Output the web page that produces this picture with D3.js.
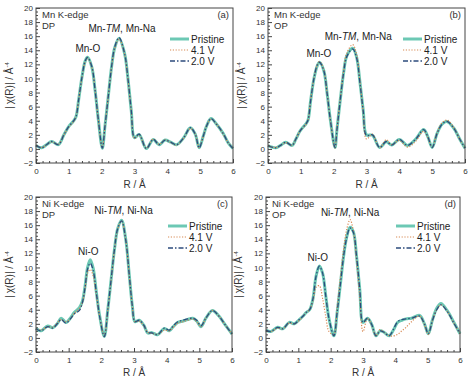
<!DOCTYPE html>
<html>
<head>
<meta charset="utf-8">
<script src="https://cdn.jsdelivr.net/npm/d3@7"></script>
<style>
  body { margin: 0; background: #fff; }
  svg { font-family: "Liberation Sans", Arial, sans-serif; }
</style>
</head>
<body>
<svg id="chart" width="474" height="378"></svg>
<script>
// x ticks / y ticks shared by all panels
const xTicks = [0, 1, 2, 3, 4, 5, 6];
const yTicks = [-2, 0, 2, 4, 6, 8, 10, 12, 14, 16, 18, 20];
const seriesNames = ['Pristine', '4.1 V', '2.0 V'];

// (a) Mn K-edge DP
const rA = [0, 0.17, 0.32, 0.48, 0.68, 0.85, 1.0, 1.15, 1.22, 1.3, 1.4, 1.5, 1.57, 1.7, 1.8, 1.9, 2.02, 2.1, 2.2, 2.3, 2.4, 2.53, 2.7, 2.8, 2.9, 3.0, 3.14, 3.36, 3.57, 3.75, 3.93, 4.1, 4.28, 4.5, 4.7, 4.85, 4.97, 5.1, 5.2, 5.33, 5.5, 5.7, 5.85, 6.0];
const aPristine = [0.5, 0.15, 0.6, 1.05, 0.6, 2.0, 3.2, 4.0, 4.6, 7.0, 10.2, 12.5, 13.0, 11.6, 8.3, 4.1, 0.1, 3.2, 7.4, 11.6, 14.4, 15.7, 13.5, 10.0, 5.5, 1.6, 2.05, 0.05, 1.35, 0.6, 1.25, 0.95, 0.6, 1.6, 3.0, 2.1, 0.15, 1.9, 3.3, 4.3, 3.5, 2.2, 0.9, 0.05];
const a41 = [0.55, 0.2, 0.6, 1.0, 0.65, 2.0, 3.1, 3.9, 4.6, 7.0, 10.1, 12.4, 12.9, 11.6, 8.3, 4.1, 0.15, 3.2, 7.4, 11.5, 14.3, 15.6, 13.4, 9.9, 5.4, 1.5, 2.0, 0.1, 1.4, 0.65, 1.3, 0.9, 0.55, 1.55, 2.9, 2.1, 0.2, 1.9, 3.3, 4.25, 3.5, 2.1, 0.9, 0.1];
const a20 = [0.5, 0.15, 0.6, 1.05, 0.6, 2.0, 3.2, 4.0, 4.6, 7.0, 10.2, 12.5, 13.0, 11.7, 8.3, 4.1, 0.1, 3.2, 7.4, 11.6, 14.5, 15.8, 13.5, 10.0, 5.5, 1.6, 2.1, 0.05, 1.35, 0.6, 1.25, 0.95, 0.6, 1.6, 3.0, 2.1, 0.15, 1.9, 3.3, 4.3, 3.5, 2.2, 0.9, 0.05];

// (b) Mn K-edge OP
const rB = [0, 0.24, 0.38, 0.54, 0.73, 0.85, 0.97, 1.16, 1.22, 1.3, 1.4, 1.5, 1.57, 1.7, 1.8, 1.9, 2.04, 2.1, 2.2, 2.3, 2.4, 2.58, 2.7, 2.8, 2.9, 3.0, 3.18, 3.4, 3.6, 3.77, 4.0, 4.25, 4.5, 4.74, 4.87, 5.0, 5.15, 5.3, 5.45, 5.65, 5.85, 6.0];
const bPristine = [0.45, 0.15, 0.5, 0.95, 0.5, 1.4, 2.5, 3.6, 4.1, 6.9, 10.0, 11.8, 12.3, 11.1, 7.9, 4.1, 0.2, 2.75, 6.9, 10.7, 13.2, 14.3, 13.0, 9.5, 5.5, 2.0, 1.95, 0.2, 1.0, 0.55, 1.35, 0.5, 1.4, 2.75, 1.7, 0.2, 2.2, 3.5, 3.9, 3.0, 1.3, 0.1];
const b41 = [0.5, 0.2, 0.5, 0.9, 0.55, 1.4, 2.5, 3.5, 4.1, 7.0, 10.1, 11.9, 12.4, 11.2, 8.0, 4.0, 0.15, 2.8, 7.1, 11.0, 13.6, 14.8, 13.4, 9.6, 5.2, 1.4, 2.1, 0.15, 1.3, 0.6, 1.2, 0.25, 1.1, 2.5, 1.6, 0.25, 2.3, 3.7, 4.1, 3.1, 1.3, 0.1];
const b20 = [0.45, 0.15, 0.5, 0.95, 0.5, 1.4, 2.5, 3.6, 4.1, 6.9, 10.0, 11.9, 12.3, 11.1, 7.9, 4.1, 0.2, 2.7, 6.9, 10.7, 13.1, 14.2, 12.9, 9.4, 5.4, 1.9, 2.0, 0.2, 1.05, 0.55, 1.35, 0.5, 1.4, 2.75, 1.7, 0.2, 2.2, 3.5, 3.9, 3.0, 1.3, 0.1];

// (c) Ni K-edge DP
const rC = [0, 0.15, 0.36, 0.51, 0.65, 0.77, 0.92, 1.05, 1.17, 1.33, 1.42, 1.5, 1.58, 1.66, 1.75, 1.85, 1.95, 2.09, 2.2, 2.3, 2.4, 2.5, 2.62, 2.75, 2.85, 2.95, 3.03, 3.16, 3.3, 3.42, 3.55, 3.72, 3.93, 4.08, 4.2, 4.34, 4.5, 4.64, 4.8, 4.92, 5.05, 5.2, 5.4, 5.6, 5.8, 6.0];
const cPristine = [1.35, 1.0, 1.7, 1.45, 2.0, 2.8, 2.2, 2.8, 3.6, 4.3, 5.2, 7.3, 10.0, 11.1, 9.9, 6.4, 3.1, 0.2, 4.1, 8.3, 12.5, 15.5, 16.7, 13.9, 9.2, 4.5, 2.3, 2.5, 1.8, 0.7, 0.75, 0.45, 1.35, 1.0, 1.6, 2.2, 2.4, 2.6, 2.8, 2.4, 1.6, 2.8, 3.9, 3.1, 1.8, 0.55];
const c41 = [1.2, 1.1, 1.6, 1.5, 2.1, 2.6, 2.3, 2.7, 3.5, 4.2, 5.0, 6.9, 9.2, 9.7, 8.8, 6.0, 3.0, 0.3, 4.0, 8.2, 12.4, 15.4, 16.6, 13.8, 9.1, 4.4, 2.3, 2.4, 1.7, 0.8, 0.65, 0.5, 1.1, 1.0, 1.5, 2.1, 2.3, 2.5, 2.7, 2.3, 1.6, 2.8, 3.9, 3.1, 1.8, 0.55];
const c20 = [1.3, 1.0, 1.6, 1.4, 2.0, 2.6, 2.1, 2.7, 3.4, 3.9, 5.0, 7.1, 9.8, 10.6, 9.6, 6.3, 3.0, 0.2, 4.1, 8.3, 12.5, 15.5, 16.6, 13.8, 9.2, 4.5, 2.3, 2.5, 1.8, 0.75, 0.7, 0.45, 1.4, 1.1, 1.7, 2.3, 2.5, 2.7, 2.8, 2.5, 1.7, 2.8, 3.9, 3.1, 1.8, 0.55];

// (d) Ni K-edge OP
const rD = [0, 0.15, 0.36, 0.52, 0.72, 0.88, 1.03, 1.15, 1.24, 1.35, 1.45, 1.55, 1.65, 1.75, 1.85, 1.95, 2.1, 2.2, 2.3, 2.4, 2.5, 2.6, 2.7, 2.8, 2.9, 3.0, 3.14, 3.27, 3.4, 3.53, 3.65, 3.81, 3.95, 4.07, 4.2, 4.33, 4.5, 4.75, 4.9, 5.02, 5.15, 5.28, 5.41, 5.6, 5.8, 6.0];
const dPristine = [1.1, 0.9, 1.5, 1.3, 2.2, 2.0, 2.6, 3.1, 3.6, 4.0, 5.5, 8.8, 10.2, 9.2, 5.9, 2.7, 0.3, 3.6, 7.6, 11.6, 14.4, 15.7, 15.1, 11.6, 6.9, 2.2, 2.8, 1.9, 0.3, 1.0, 0.8, 0.3, 1.2, 2.2, 2.5, 2.7, 2.8, 3.2, 2.0, 0.6, 2.6, 4.2, 4.9, 3.9, 2.3, 0.6];
const d41 = [1.1, 0.9, 1.4, 1.3, 2.1, 2.0, 2.5, 3.1, 3.6, 4.0, 5.2, 7.2, 7.4, 5.6, 3.0, 0.9, 0.5, 4.3, 8.5, 12.6, 15.5, 16.8, 15.2, 11.0, 5.8, 0.9, 2.8, 1.8, 0.3, 1.2, 0.8, 0.3, 0.3, 0.5, 1.0, 1.5, 2.3, 3.1, 1.9, 0.5, 2.5, 4.0, 4.7, 3.8, 2.2, 0.6];
const d20 = [1.1, 0.9, 1.5, 1.3, 2.2, 2.0, 2.6, 3.1, 3.6, 4.0, 5.5, 8.8, 10.2, 9.2, 5.9, 2.7, 0.3, 3.6, 7.6, 11.6, 14.3, 15.6, 15.0, 11.6, 6.9, 2.2, 2.8, 1.9, 0.3, 1.0, 0.8, 0.3, 1.3, 2.3, 2.6, 2.7, 2.8, 3.1, 2.0, 0.6, 2.5, 4.0, 4.7, 3.8, 2.2, 0.6];

const panels = [
  { r: rA, series: [aPristine, a41, a20], tag: '(a)', edge: ['Mn K-edge', 'DP'],
    peakLo: ['Mn-O', 1.58, 13.8], peakHi: ['Mn', 'Mn-Na', 2.62, 16.6],
    x0: 36, x1: 233, y0: 8, y1: 163, legX: 170, legY: 39, ylabX: 13, xlabY: 188 },
  { r: rB, series: [bPristine, b41, b20], tag: '(b)', edge: ['Mn K-edge', 'OP'],
    peakLo: ['Mn-O', 1.55, 13.0], peakHi: ['Mn', 'Mn-Na', 2.75, 15.4],
    x0: 268, x1: 465, y0: 8, y1: 163, legX: 403, legY: 39, ylabX: 245, xlabY: 188 },
  { r: rC, series: [cPristine, c41, c20], tag: '(c)', edge: ['Ni K-edge', 'DP'],
    peakLo: ['Ni-O', 1.6, 11.8], peakHi: ['Ni', 'Ni-Na', 2.68, 17.6],
    x0: 36, x1: 232, y0: 197, y1: 352, legX: 168, legY: 226, ylabX: 13, xlabY: 376 },
  { r: rD, series: [dPristine, d41, d20], tag: '(d)', edge: ['Ni K-edge', 'OP'],
    peakLo: ['Ni-O', 1.6, 10.9], peakHi: ['Ni', 'Ni-Na', 2.6, 17.3],
    x0: 266, x1: 460, y0: 197, y1: 352, legX: 396, legY: 226, ylabX: 242, xlabY: 376 }
];

const colors = ['#6cc8b4', '#d88a55', '#2c4b7c'];
const widths = [3, 1.2, 1.3];
const dashes = [null, '1.2,1.6', '5,2,1.5,2'];

const svg = d3.select('#chart');
svg.append('rect').attr('width', 474).attr('height', 378).attr('fill', '#fff');

panels.forEach(p => {
  const x = d3.scaleLinear().domain([0, 6]).range([p.x0, p.x1]);
  const y = d3.scaleLinear().domain([-2, 20]).range([p.y1, p.y0]);
  const g = svg.append('g');

  // curves
  const line = d3.line()
    .x(d => x(d[0])).y(d => y(d[1]))
    .curve(d3.curveCatmullRom.alpha(0.5));
  p.series.forEach((vals, i) => {
    g.append('path')
      .attr('d', line(p.r.map((r, k) => [r, vals[k]])))
      .attr('fill', 'none')
      .attr('stroke', colors[i])
      .attr('stroke-width', widths[i])
      .attr('stroke-dasharray', dashes[i])
      .attr('stroke-linejoin', 'round');
  });

  // frame
  g.append('rect')
    .attr('x', p.x0).attr('y', p.y0)
    .attr('width', p.x1 - p.x0).attr('height', p.y1 - p.y0)
    .attr('fill', 'none').attr('stroke', '#444').attr('stroke-width', 1);

  // minor ticks
  const xMinor = d3.range(0, 6.001, 0.2).filter(v => Math.abs(v - Math.round(v)) > 0.01);
  const yMinor = d3.range(-2, 20.001, 0.5).filter(v => Math.abs(v / 2 - Math.round(v / 2)) > 0.01);
  g.append('g').attr('transform', `translate(0,${p.y1})`)
    .call(d3.axisBottom(x).tickValues(xMinor).tickSize(-2).tickFormat(''))
    .call(a => a.select('.domain').remove())
    .selectAll('line').attr('stroke', '#444');
  g.append('g').attr('transform', `translate(${p.x0},0)`)
    .call(d3.axisLeft(y).tickValues(yMinor).tickSize(-2).tickFormat(''))
    .call(a => a.select('.domain').remove())
    .selectAll('line').attr('stroke', '#444');

  // major ticks + labels
  const xa = g.append('g').attr('transform', `translate(0,${p.y1})`)
    .call(d3.axisBottom(x).tickValues(xTicks).tickSize(-4).tickPadding(5).tickFormat(d3.format('d')));
  xa.select('.domain').remove();
  xa.selectAll('line').attr('stroke', '#444');
  xa.selectAll('text').attr('font-size', 8).attr('fill', '#333')
    .attr('font-family', '"Liberation Sans", Arial, sans-serif');

  const ya = g.append('g').attr('transform', `translate(${p.x0},0)`)
    .call(d3.axisLeft(y).tickValues(yTicks).tickSize(-4).tickPadding(3).tickFormat(d3.format('d')));
  ya.select('.domain').remove();
  ya.selectAll('line').attr('stroke', '#444');
  ya.selectAll('text').attr('font-size', 8).attr('fill', '#333')
    .attr('font-family', '"Liberation Sans", Arial, sans-serif');

  // axis titles
  g.append('text')
    .attr('x', (p.x0 + p.x1) / 2).attr('y', p.xlabY)
    .attr('text-anchor', 'middle').attr('font-size', 10).attr('fill', '#333')
    .text('R / Å');
  const yl = g.append('text')
    .attr('transform', `translate(${p.ylabX},${(p.y0 + p.y1) / 2}) rotate(-90)`)
    .attr('text-anchor', 'middle').attr('font-size', 10).attr('fill', '#333');
  yl.append('tspan').text('|');
  yl.append('tspan').attr('dx', 2).text('χ(R)| / Å');
  yl.append('tspan').attr('font-size', 6).attr('dy', -4).text('-4');

  // in-plot labels
  g.append('text').attr('x', p.x0 + 6).attr('y', p.y0 + 10)
    .attr('font-size', 9.5).attr('fill', '#333').text(p.edge[0]);
  g.append('text').attr('x', p.x0 + 6).attr('y', p.y0 + 21)
    .attr('font-size', 9.5).attr('fill', '#333').text(p.edge[1]);
  g.append('text').attr('x', p.x1 - 4).attr('y', p.y0 + 10)
    .attr('text-anchor', 'end').attr('font-size', 9.5).attr('fill', '#333').text(p.tag);

  g.append('text').attr('x', x(p.peakLo[1])).attr('y', y(p.peakLo[2]))
    .attr('text-anchor', 'middle').attr('font-size', 10).attr('fill', '#222').text(p.peakLo[0]);
  const ph = g.append('text').attr('x', x(p.peakHi[2])).attr('y', y(p.peakHi[3]))
    .attr('text-anchor', 'middle').attr('font-size', 10).attr('fill', '#222');
  ph.append('tspan').text(p.peakHi[0] + '-');
  ph.append('tspan').attr('font-style', 'italic').text('TM');
  ph.append('tspan').text(', ' + p.peakHi[1]);

  // legend
  seriesNames.forEach((name, i) => {
    const ly = p.legY + i * 11;
    g.append('line')
      .attr('x1', p.legX).attr('x2', p.legX + 19)
      .attr('y1', ly).attr('y2', ly)
      .attr('stroke', colors[i]).attr('stroke-width', widths[i])
      .attr('stroke-dasharray', dashes[i]);
    g.append('text').attr('x', p.legX + 21).attr('y', ly + 3.5)
      .attr('font-size', 10).attr('fill', '#222').text(name);
  });
});
</script>
</body>
</html>
